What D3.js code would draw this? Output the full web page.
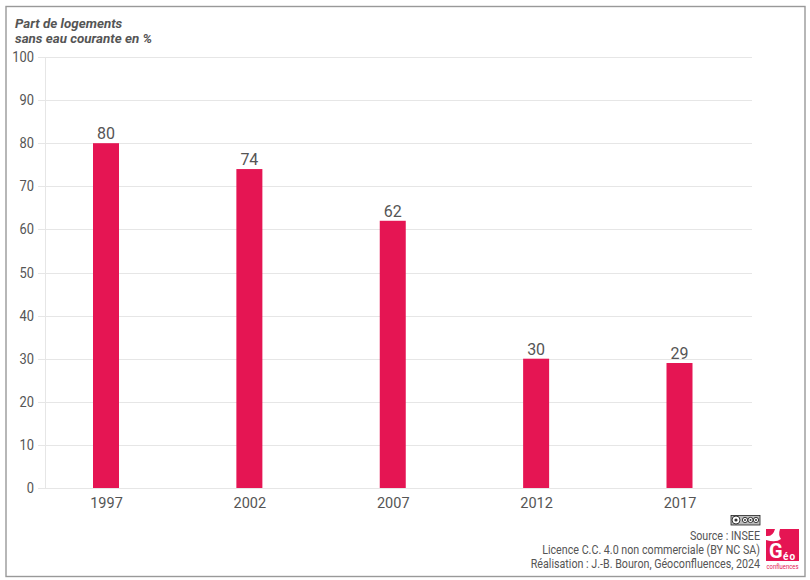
<!DOCTYPE html>
<html>
<head>
<meta charset="utf-8">
<script src="https://cdn.jsdelivr.net/npm/d3@7"></script>
<style>
html, body { margin: 0; padding: 0; background: #fff; }
svg { display: block; }
text { font-family: Roboto, sans-serif; fill: #555; }
</style>
</head>
<body>
<div id="chart"></div>
<script>
var years = ['1997', '2002', '2007', '2012', '2017'];
var shares = [80, 74, 62, 30, 29];
var yTicks = [0, 10, 20, 30, 40, 50, 60, 70, 80, 90, 100];
var titleLines = ['Part de logements', 'sans eau courante en %'];
var creditLines = ['Source : INSEE', 'Licence C.C. 4.0 non commerciale (BY NC SA)', 'Réalisation : J.-B. Bouron, Géoconfluences, 2024'];

var svg = d3.select('#chart').append('svg')
    .attr('width', 810)
    .attr('height', 580);

// Frame
svg.append('rect')
    .attr('x', 6).attr('y', 6.5)
    .attr('width', 799).attr('height', 570)
    .attr('fill', '#fff')
    .attr('stroke', '#999')
    .attr('stroke-width', 1.4);

var x = d3.scalePoint().domain(years).range([106, 679.5]);
var y = d3.scaleLinear().domain([0, 100]).range([488, 57]);

//--------------------------------------------------------------
// Grid and axes

svg.selectAll('.grid')
    .data(yTicks)
  .enter().append('line')
    .attr('class', 'grid')
    .attr('x1', 38).attr('x2', 752)
    .attr('y1', function(d){ return Math.round(y(d)) + 0.5; })
    .attr('y2', function(d){ return Math.round(y(d)) + 0.5; })
    .attr('stroke', '#e6e6e6');

svg.append('line')
    .attr('x1', 45.5).attr('x2', 45.5)
    .attr('y1', y(100)).attr('y2', y(0))
    .attr('stroke', '#e6e6e6');

// Source labels are a condensed face, so squeeze them horizontally
svg.selectAll('.ylab')
    .data(yTicks)
  .enter().append('text')
    .attr('class', 'ylab')
    .attr('transform', function(d){ return 'translate(34,' + (y(d) + 5) + ') scale(0.92,1)'; })
    .attr('text-anchor', 'end')
    .style('font-size', '14px')
    .text(function(d){ return d; });

svg.selectAll('.xlab')
    .data(years)
  .enter().append('text')
    .attr('class', 'xlab')
    .attr('x', function(d){ return x(d) + 0.5; })
    .attr('y', 508)
    .attr('text-anchor', 'middle')
    .style('font-size', '14.5px')
    .text(function(d){ return d; });

//--------------------------------------------------------------
// Bars

var barW = 26;

svg.selectAll('.bar')
    .data(shares)
  .enter().append('rect')
    .attr('class', 'bar')
    .attr('x', function(d, i){ return x(years[i]) - barW / 2; })
    .attr('y', function(d){ return y(d); })
    .attr('width', barW)
    .attr('height', function(d){ return y(0) - y(d); })
    .attr('fill', '#e51553');

svg.selectAll('.val')
    .data(shares)
  .enter().append('text')
    .attr('class', 'val')
    .attr('x', function(d, i){ return x(years[i]); })
    .attr('y', function(d){ return y(d) - 4; })
    .attr('text-anchor', 'middle')
    .style('font-size', '16px')
    .text(function(d){ return d; });

//--------------------------------------------------------------
// Title and credits

svg.selectAll('.title')
    .data(titleLines)
  .enter().append('text')
    .attr('class', 'title')
    .attr('transform', function(d, i){ return 'translate(15,' + (27.5 + i * 15) + ') scale(0.99,1)'; })
    .style('font-size', '13.5px')
    .style('font-weight', 'bold')
    .style('font-style', 'italic')
    .text(function(d){ return d; });

svg.selectAll('.credit')
    .data(creditLines)
  .enter().append('text')
    .attr('class', 'credit')
    .attr('transform', function(d, i){ return 'translate(760,' + (540 + i * 14) + ') scale(0.893,1)'; })
    .attr('text-anchor', 'end')
    .style('font-size', '12px')
    .text(function(d){ return d; });

// CC badge
var cc = svg.append('g');
cc.append('rect')
    .attr('x', 731).attr('y', 515.5)
    .attr('width', 29).attr('height', 9.5)
    .attr('fill', '#bbb')
    .attr('stroke', '#222')
    .attr('stroke-width', 0.8);
cc.selectAll('.ring')
    .data([736, 745, 750.5, 756])
  .enter().append('circle')
    .attr('class', 'ring')
    .attr('cx', function(d){ return d; })
    .attr('cy', 520)
    .attr('r', function(d, i){ return i ? 2.6 : 4; })
    .attr('fill', '#fff')
    .attr('stroke', '#222')
    .attr('stroke-width', 0.9);
cc.selectAll('.dot')
    .data([736, 745, 750.5, 756])
  .enter().append('circle')
    .attr('class', 'dot')
    .attr('cx', function(d){ return d; })
    .attr('cy', 520)
    .attr('r', function(d, i){ return i ? 1 : 1.6; })
    .attr('fill', '#333');

// Logo
var logo = svg.append('g');
logo.append('rect')
    .attr('x', 766).attr('y', 529)
    .attr('width', 33).attr('height', 32)
    .attr('fill', '#e51553');
logo.append('path')
    .attr('d', 'M775,529 L780,529 Q778,535 781,539 Q776,543 766,540 L766,536 Q773,537 775,529 Z')
    .attr('fill', '#fff');
logo.append('text')
    .attr('x', 769).attr('y', 558)
    .style('font-size', '20px')
    .style('font-weight', 'bold')
    .style('fill', '#fff')
    .text('G');
logo.append('text')
    .attr('x', 783).attr('y', 559.5)
    .style('font-size', '10px')
    .style('font-weight', 'bold')
    .style('letter-spacing', '1px')
    .style('fill', '#fff')
    .text('éo');
logo.append('text')
    .attr('x', 766.5).attr('y', 569)
    .attr('textLength', 32)
    .attr('lengthAdjust', 'spacingAndGlyphs')
    .style('font-size', '6.5px')
    .style('fill', '#e51553')
    .text('confluences');
</script>
</body>
</html>
